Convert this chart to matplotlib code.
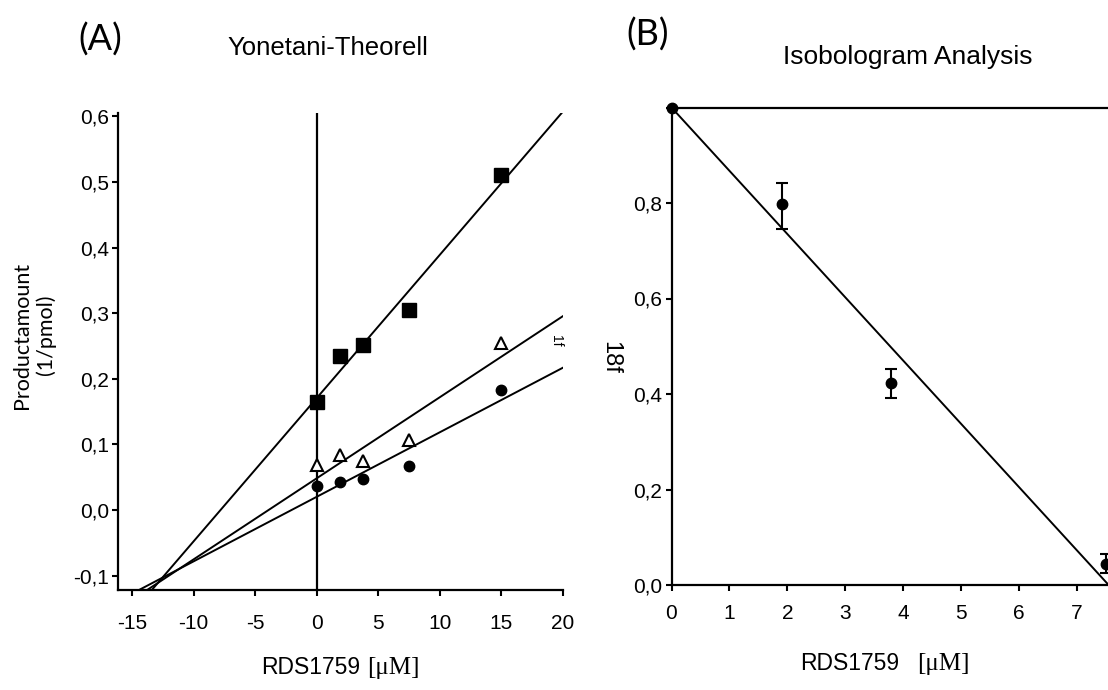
import matplotlib
matplotlib.use("Agg")
import matplotlib.pyplot as plt
import numpy as np

# ---------------- data ----------------
conc_A = [0, 1.875, 3.75, 7.5, 15]
squares = [0.165, 0.235, 0.252, 0.305, 0.51]
triangles = [0.069, 0.084, 0.075, 0.107, 0.254]
circles = [0.037, 0.043, 0.047, 0.067, 0.183]
xticks_A = [-15, -10, -5, 0, 5, 10, 15, 20]
yticks_A = [-0.1, 0.0, 0.1, 0.2, 0.3, 0.4, 0.5, 0.6]
ytick_labels_A = ["-0,1", "0,0", "0,1", "0,2", "0,3", "0,4", "0,5", "0,6"]

conc_B = [0, 1.9, 3.79, 7.5]
frac_18f = [1.0, 0.797, 0.422, 0.045]
err_lo = [0, 0.052, 0.031, 0.02]
err_hi = [0, 0.044, 0.031, 0.02]
isobole_x = [0, 7.55]
isobole_y = [1.0, 0.0]
xticks_B = [0, 1, 2, 3, 4, 5, 6, 7]
yticks_B = [0.0, 0.2, 0.4, 0.6, 0.8]
ytick_labels_B = ["0,0", "0,2", "0,4", "0,6", "0,8"]

plt.rcParams['font.family'] = ['Liberation Sans', 'DejaVu Sans']

W, H = 1108, 690
fig = plt.figure(figsize=(W / 100, H / 100), dpi=100)

def px(x, y):
    return x / W, 1 - y / H

TICK_FS = 15

# ---------------- Panel A ----------------
axA = fig.add_axes([118 / W, 1 - 590 / H, (563 - 118) / W, (590 - 113) / H])
axA.set_xlim(-16.14, 20)
axA.set_ylim(-0.122, 0.605)
for s in ["top", "right"]:
    axA.spines[s].set_visible(False)
for s in ["left", "bottom"]:
    axA.spines[s].set_linewidth(1.6)
axA.axvline(0, color="black", lw=1.6, zorder=1)

xl = np.array([-14.5, 20.5])
for yvals in (squares, triangles, circles):
    b, a = np.polyfit(conc_A, yvals, 1)
    axA.plot(xl, a + b * xl, color="black", lw=1.4, zorder=2)

axA.plot(conc_A, squares, ls="none", marker="s", ms=9.5, color="black", zorder=3, clip_on=False)
axA.plot(conc_A, triangles, ls="none", marker="^", ms=9, mfc="white", mec="black", mew=1.5, zorder=3)
axA.plot(conc_A, circles, ls="none", marker="o", ms=7.5, color="black", zorder=3)

axA.set_xticks(xticks_A)
axA.set_xticklabels([str(t) for t in xticks_A])
axA.set_yticks(yticks_A)
axA.set_yticklabels(ytick_labels_A)
axA.tick_params(axis="both", direction="out", length=4.5, width=1.5, labelsize=TICK_FS)
axA.tick_params(axis="x", pad=13)
axA.tick_params(axis="y", pad=2)

# ---------------- Panel B ----------------
axB = fig.add_axes([671.5 / W, 1 - 585 / H, 8 * 57.9 / W, 477.5 / H])
axB.set_xlim(0, 8)
axB.set_ylim(0, 1.0)
axB.spines["right"].set_visible(False)
for s in ["left", "bottom", "top"]:
    axB.spines[s].set_linewidth(1.6)

axB.plot(isobole_x, isobole_y, color="black", lw=1.4, zorder=2)
axB.errorbar(conc_B, frac_18f, yerr=[err_lo, err_hi], fmt="o", ms=7.5, color="black",
             ecolor="black", elinewidth=1.5, capsize=4.3, capthick=1.5, zorder=3, clip_on=False)

axB.set_xticks(xticks_B)
axB.set_xticklabels([str(t) for t in xticks_B])
axB.set_yticks(yticks_B)
axB.set_yticklabels(ytick_labels_B)
axB.tick_params(axis="both", direction="out", length=4.5, width=1.5, labelsize=TICK_FS)
axB.tick_params(axis="x", pad=9)
axB.tick_params(axis="y", pad=2)

# ---------------- texts ----------------
cal = ['Lato', 'DejaVu Sans']
fig.text(*px(100, 40), "(A)", fontsize=26, family=cal, ha="center", va="center")
fig.text(*px(648, 35), "(B)", fontsize=26, family=cal, ha="center", va="center")
fig.text(*px(328, 48), "Yonetani-Theorell", fontsize=18.5, ha="center", va="center")
fig.text(*px(908, 57), "Isobologram Analysis", fontsize=19, ha="center", va="center")

fig.text(*px(34, 335), "Productamount\n(1/pmol)", fontsize=15.5, family=cal, rotation=90,
         ha="center", va="center", multialignment="center", linespacing=1.25)
fig.text(*px(610, 357), "18f", fontsize=17, rotation=-90, ha="center", va="center")
fig.text(*px(556, 341), "1f", fontsize=10, rotation=-90, ha="center", va="center")

serif = ['Liberation Serif', 'DejaVu Serif']
fig.text(*px(360, 674), "RDS1759", fontsize=16.5, ha="right", va="baseline")
fig.text(*px(367, 674), "[\u03bcM]", fontsize=18, family=serif, ha="left", va="baseline")
fig.text(*px(899, 670), "RDS1759", fontsize=16.5, ha="right", va="baseline")
fig.text(*px(917, 670), "[\u03bcM]", fontsize=18, family=serif, ha="left", va="baseline")

fig.savefig("out.png", dpi=100)
